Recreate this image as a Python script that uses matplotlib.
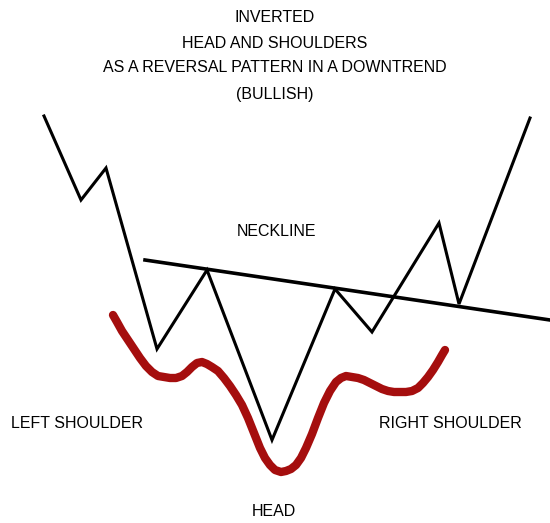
import matplotlib.pyplot as plt
import matplotlib.font_manager as fm

# price path (x, y, y grows downward)
price_x = [44, 81, 106, 157, 207, 272, 335, 372, 439, 459, 530]
price_y = [116, 200, 168, 349, 270, 440, 289, 332, 223, 304, 118]

# neckline end points
neck_x = [145, 550]
neck_y = [260, 320]

# red outline of the shoulders and head
curve_x = [113, 117, 122, 128, 134, 140, 146, 152, 158, 164, 170, 176, 182,
           187, 192, 197, 202, 207, 212, 218, 224, 230, 236, 242, 248, 254,
           260, 265, 270, 275, 281, 286, 291, 296, 301, 306, 312, 318, 324,
           330, 336, 341, 346, 352, 358, 364, 370, 376, 382, 388, 394, 400,
           406, 412, 418, 423, 428, 433, 438, 442, 445]
curve_y = [315, 322, 331, 340, 349, 358, 366, 372, 376, 377, 378, 378, 376,
           372, 367, 363, 362, 364, 367, 371, 378, 386, 395, 405, 418, 433,
           448, 458, 465, 470, 472, 471, 469, 465, 458, 448, 434, 418, 403,
           391, 382, 378, 376, 377, 378, 380, 383, 386, 389, 391, 392, 392,
           392, 391, 388, 383, 377, 370, 362, 355, 350]

title_lines = ["INVERTED", "HEAD AND SHOULDERS",
               "AS A REVERSAL PATTERN IN A DOWNTREND", "(BULLISH)"]
title_y = [17, 43, 68, 94]

labels = ["NECKLINE", "LEFT SHOULDER", "RIGHT SHOULDER", "HEAD"]
label_x = [276, 77, 450, 274]
label_y = [231, 423, 423, 512]

names = {f.name for f in fm.fontManager.ttflist}
family = 'Liberation Sans Narrow' if 'Liberation Sans Narrow' in names else 'Liberation Sans'

fig = plt.figure(figsize=(5.5, 5.23), dpi=100)
ax = fig.add_axes([0, 0, 1, 1])
ax.set_xlim(0, 550)
ax.set_ylim(523, 0)
ax.axis('off')

ax.plot(curve_x, curve_y, color='#a50e0e', lw=6,
        solid_joinstyle='round', solid_capstyle='round')
ax.plot(price_x, price_y, color='black', lw=2.2, solid_joinstyle='miter')
ax.plot(neck_x, neck_y, color='black', lw=2.6)

for txt, y in zip(title_lines, title_y):
    ax.text(275, y, txt, ha='center', va='center', fontsize=11.5,
            family=family, color='black')

for txt, x, y in zip(labels, label_x, label_y):
    ax.text(x, y, txt, ha='center', va='center', fontsize=11.5,
            family=family, color='black')

fig.savefig('out.png', dpi=100)
